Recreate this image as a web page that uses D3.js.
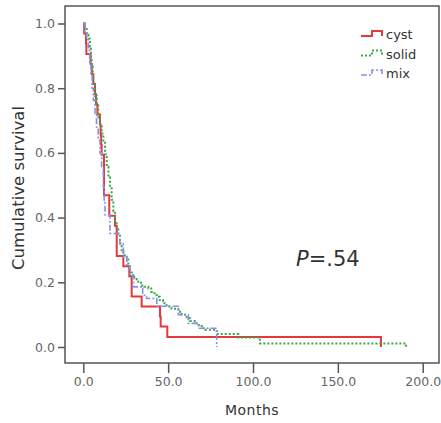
<!DOCTYPE html>
<html>
<head>
<meta charset="utf-8">
<script src="https://cdn.jsdelivr.net/npm/d3@7"></script>
<style>
  body { margin: 0; background: #fff; }
  text { font-family: "DejaVu Sans", sans-serif; }
</style>
</head>
<body>
<div id="chart-area"></div>
<script>
const groups = ["cyst", "solid", "mix"]
const colors = ["#e5383b", "#35a84a", "#8c8ee6"]

// [months, cumulative survival]
const cystData = [[0,1],[0.5,0.969],[1.6,0.938],[1.8,0.906],[4.3,0.875],[5,0.844],[5.9,0.813],
  [6.9,0.781],[7.5,0.75],[8.3,0.719],[9.8,0.688],[10.2,0.656],[10.5,0.625],[10.8,0.594],
  [12.2,0.469],[15.3,0.406],[18.7,0.375],[19.7,0.281],[23.6,0.25],[27.1,0.219],[28.5,0.156],
  [34.4,0.125],[45.2,0.094],[45.6,0.063],[49.5,0.031],[175.4,0]]
const solidData = [[0,1],[1,0.988],[2,0.965],[3,0.953],[3.9,0.929],[4.5,0.894],[4.9,0.866],
  [5.5,0.835],[5.9,0.812],[6.8,0.776],[7.9,0.75],[8.8,0.71],[9.8,0.69],[10.8,0.66],[11.8,0.635],
  [12.8,0.596],[13.8,0.557],[14.8,0.525],[15.7,0.495],[16.7,0.455],[17.7,0.42],[18.7,0.39],
  [19.6,0.37],[20.6,0.35],[21.6,0.32],[22.6,0.295],[23.6,0.284],[25.6,0.274],[26.5,0.25],
  [27.5,0.23],[28.5,0.217],[30,0.21],[31.4,0.202],[34,0.19],[36,0.186],[38.3,0.181],[40,0.17],
  [42,0.16],[43.3,0.155],[45,0.145],[47,0.135],[49.1,0.125],[52,0.118],[56,0.109],[58,0.1],
  [60.9,0.089],[63,0.08],[66.8,0.068],[69.8,0.058],[72,0.053],[78.6,0.04],[91.4,0.029],
  [104.1,0.011],[190.2,0]]
const mixData = [[0,1],[1,0.975],[2,0.95],[3,0.917],[3.8,0.88],[4.5,0.84],[5.2,0.8],[5.9,0.763],
  [6.9,0.722],[7.8,0.68],[8.8,0.64],[9.8,0.6],[10.8,0.557],[11.8,0.495],[12.3,0.45],[12.8,0.408],
  [15.7,0.351],[21.6,0.32],[23.6,0.28],[25.6,0.25],[27.5,0.223],[29.5,0.186],[35,0.16],
  [37.3,0.15],[43.3,0.126],[56,0.1],[61.9,0.073],[67.8,0.058],[78.6,0]]

const xTicks = [0, 50, 100, 150, 200]
const yTicks = [0, 0.2, 0.4, 0.6, 0.8, 1.0]

const series = [cystData, solidData, mixData]
const dashes = [null, "2,2", "6,2,2,2"]
const widths = [2, 2, 1.6]

const svg = d3.select("#chart-area").append("svg")
  .attr("width", 441)
  .attr("height", 423)

const FRAME = { LEFT: 65, RIGHT: 439, TOP: 6, BOTTOM: 363 }

const x = d3.scaleLinear().domain([0, 200]).range([83.3, 422.7])
const y = d3.scaleLinear().domain([0, 1]).range([347, 23.5])

// frame
svg.append("rect")
  .attr("x", FRAME.LEFT)
  .attr("y", FRAME.TOP)
  .attr("width", FRAME.RIGHT - FRAME.LEFT)
  .attr("height", FRAME.BOTTOM - FRAME.TOP)
  .attr("fill", "none")
  .attr("stroke", "#555")
  .attr("stroke-width", 1.5)

// axes
const yAxis = d3.axisLeft(y).tickValues(yTicks).tickFormat(d3.format(".1f")).tickSize(7).tickPadding(3)
const gy = svg.append("g").attr("transform", `translate(${FRAME.LEFT},0)`).call(yAxis)
const xAxis = d3.axisBottom(x).tickValues(xTicks).tickFormat(d3.format(".1f")).tickSize(10).tickPadding(4)
const gx = svg.append("g").attr("transform", `translate(0,${FRAME.BOTTOM})`).call(xAxis)
;[gx, gy].forEach(g => {
  g.select(".domain").remove()
  g.selectAll(".tick line").attr("stroke", "#555").attr("stroke-width", 1.5)
  g.selectAll(".tick text").attr("fill", "#666").attr("font-size", "12.5px")
})

svg.append("text")
  .attr("x", 252)
  .attr("y", 415)
  .attr("text-anchor", "middle")
  .attr("font-size", "14px")
  .attr("fill", "#333")
  .attr("letter-spacing", "0.5px")
  .text("Months")

svg.append("text")
  .attr("transform", "translate(24,188) rotate(-90)")
  .attr("text-anchor", "middle")
  .attr("font-size", "16.5px")
  .attr("fill", "#333")
  .text("Cumulative survival")

// curves
const line = d3.line()
  .x(d => x(d[0]))
  .y(d => y(d[1]))
  .curve(d3.curveStepAfter)

series.forEach((data, i) => {
  svg.append("path")
    .datum(data)
    .attr("d", line)
    .attr("fill", "none")
    .attr("stroke", colors[i])
    .attr("stroke-width", widths[i])
    .attr("stroke-dasharray", dashes[i])
})

// legend
const legend = svg.append("g").attr("transform", "translate(361,34)")
groups.forEach((name, i) => {
  const row = legend.append("g").attr("transform", `translate(0,${i * 19.5})`)
  row.append("path")
    .attr("d", "M0,2 H11 V-3 H21 V2")
    .attr("fill", "none")
    .attr("stroke", colors[i])
    .attr("stroke-width", widths[i])
    .attr("stroke-dasharray", dashes[i])
  row.append("text")
    .attr("x", 25)
    .attr("y", 5)
    .attr("font-size", "13px")
    .attr("fill", "#333")
    .text(name)
})

// p value
const p = svg.append("text")
  .attr("x", 296)
  .attr("y", 266)
  .attr("font-family", "'Liberation Serif', serif")
  .attr("font-size", "21px")
  .attr("fill", "#333")
p.append("tspan").attr("font-style", "italic").text("P")
p.append("tspan").text("=.54")
</script>
</body>
</html>
